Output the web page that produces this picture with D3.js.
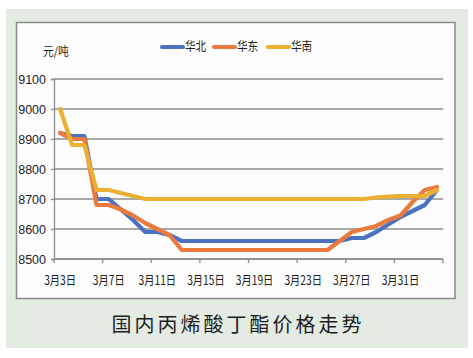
<!DOCTYPE html>
<html>
<head>
<meta charset="utf-8">
<script src="https://cdn.jsdelivr.net/npm/d3@7"></script>
<style>
  html, body { margin: 0; padding: 0; background: #ffffff; }
  svg { display: block; }
</style>
</head>
<body>
<svg id="chart" width="473" height="358"></svg>
<script>
// ---- data ----
const dates = [
  "3月3日","3月4日","3月5日","3月6日","3月7日","3月8日","3月9日","3月10日",
  "3月11日","3月12日","3月13日","3月14日","3月15日","3月16日","3月17日","3月18日",
  "3月19日","3月20日","3月21日","3月22日","3月23日","3月24日","3月25日","3月26日",
  "3月27日","3月28日","3月29日","3月30日","3月31日","4月1日","4月2日","4月3日"
];
const seriesNames = ["华北", "华东", "华南"];
const huabei = [8920,8910,8910,8700,8700,8665,8630,8590,8590,8580,8560,8560,8560,8560,8560,8560,
                8560,8560,8560,8560,8560,8560,8560,8560,8570,8570,8590,8615,8640,8660,8680,8730];
const huadong = [8920,8900,8900,8680,8680,8665,8645,8620,8600,8580,8530,8530,8530,8530,8530,8530,
                 8530,8530,8530,8530,8530,8530,8530,8560,8590,8600,8610,8630,8645,8690,8730,8740];
const huanan = [9000,8880,8880,8730,8730,8720,8710,8700,8700,8700,8700,8700,8700,8700,8700,8700,
                8700,8700,8700,8700,8700,8700,8700,8700,8700,8700,8705,8708,8710,8710,8710,8730];
const yTicks = [8500, 8600, 8700, 8800, 8900, 9000, 9100];
const xTickLabels = ["3月3日","3月7日","3月11日","3月15日","3月19日","3月23日","3月27日","3月31日"];
const yUnit = "元/吨";
const title = "国内丙烯酸丁酯价格走势";
const colors = ["#4a72c0", "#ea7b3d", "#ebb032"];

// ---- layout ----
const svg = d3.select("#chart");
const plot = { left: 54, right: 443, top: 79, bottom: 259 };

// background panel
svg.append("rect").attr("x", 6).attr("y", 9).attr("width", 462).attr("height", 339).attr("fill", "#e3ebe3");
svg.append("rect").attr("x", 16.5).attr("y", 22.5).attr("width", 438.5).attr("height", 276)
  .attr("fill", "#fdfdfd").attr("stroke", "#8a8a8a").attr("stroke-width", 1.5);

const x = d3.scaleBand().domain(dates).range([plot.left, plot.right]).padding(0);
const y = d3.scaleLinear().domain([8500, 9100]).range([plot.bottom, plot.top]);

// gridlines
svg.append("g").selectAll("line").data(yTicks).join("line")
  .attr("x1", plot.left).attr("x2", plot.right)
  .attr("y1", d => y(d)).attr("y2", d => y(d))
  .attr("stroke", "#8c8c8c").attr("stroke-width", 1.3);

// y axis
const yAxis = svg.append("g").attr("transform", `translate(${plot.left},0)`)
  .call(d3.axisLeft(y).tickValues(yTicks).tickSize(3).tickPadding(5).tickFormat(d3.format("d")));
yAxis.select(".domain").attr("stroke", "#8c8c8c").attr("stroke-width", 1.3);
yAxis.selectAll(".tick line").attr("stroke", "#8c8c8c").attr("stroke-width", 1.3);
yAxis.selectAll("text").attr("fill", "#222").style("font-family", "'Liberation Sans Narrow','Liberation Sans',sans-serif")
  .style("font-size", "12.5px");

// x axis
const tickDates = dates.filter((d, i) => i % 4 === 0);
const xAxisG = svg.append("g").attr("transform", `translate(0,${plot.bottom})`);
xAxisG.append("line").attr("x1", plot.left).attr("x2", plot.right).attr("y1", 0).attr("y2", 0)
  .attr("stroke", "#8c8c8c").attr("stroke-width", 1.3);
const tickPositions = tickDates.map(d => x(d)).concat([plot.right]);
xAxisG.selectAll("line.tk").data(tickPositions).join("line").attr("class", "tk")
  .attr("x1", d => d).attr("x2", d => d).attr("y1", 0).attr("y2", 4)
  .attr("stroke", "#8c8c8c").attr("stroke-width", 1.3);
xAxisG.selectAll("g.lbl").data(xTickLabels).join("g").attr("class", "lbl")
  .attr("transform", (d, i) => `translate(${x(tickDates[i]) + x.bandwidth() / 2},${73 - 2})`)
  .append("text")
  .attr("transform", "scale(0.82,1)")
  .attr("text-anchor", "middle")
  .attr("fill", "#222")
  .style("font-family", "'Noto Sans CJK SC',sans-serif")
  .style("font-size", "12.5px")
  .attr("y", 0)
  .text(d => d);
// fix label vertical position (labels centered near y=327 in absolute coords)
xAxisG.selectAll("g.lbl").attr("transform", (d, i) => `translate(${x(tickDates[i]) + x.bandwidth() / 2},${79 - 2 - 4})`);
xAxisG.selectAll("g.lbl").attr("transform", (d, i) => `translate(${x(tickDates[i]) + x.bandwidth() / 2},${0})`);
xAxisG.selectAll("g.lbl text").attr("y", 26);

// y unit
svg.append("text").attr("x", 43).attr("y", 56).attr("fill", "#222")
  .style("font-family", "'Noto Sans CJK SC',sans-serif").style("font-size", "12px")
  .attr("transform", "translate(43,0) scale(0.9,1) translate(-43,0)")
  .text(yUnit);

// lines
const line = d3.line().x((d, i) => x(dates[i]) + x.bandwidth() / 2).y(d => y(d));
[huabei, huadong, huanan].forEach((s, k) => {
  svg.append("path").datum(s).attr("d", line)
    .attr("fill", "none").attr("stroke", colors[k]).attr("stroke-width", 4.2)
    .attr("stroke-linejoin", "round").attr("stroke-linecap", "round");
});

// legend
const legendX = [162, 214, 268];
const legend = svg.append("g");
seriesNames.forEach((n, k) => {
  legend.append("line").attr("x1", legendX[k]).attr("x2", legendX[k] + 21)
    .attr("y1", 47).attr("y2", 47).attr("stroke", colors[k]).attr("stroke-width", 4.2)
    .attr("stroke-linecap", "round");
  legend.append("text").attr("x", legendX[k] + 23).attr("y", 51.5).attr("fill", "#222")
    .style("font-family", "'Noto Sans CJK SC',sans-serif").style("font-size", "12.5px")
    .attr("transform", `translate(${legendX[k] + 23},0) scale(0.85,1) translate(${-(legendX[k] + 23)},0)`)
    .text(n);
});

// title
svg.append("text").attr("x", 238).attr("y", 332).attr("text-anchor", "middle").attr("fill", "#1e1e1e")
  .style("font-family", "'Noto Sans CJK SC',sans-serif").style("font-size", "20px")
  .style("letter-spacing", "3px")
  .text(title);
</script>
</body>
</html>
